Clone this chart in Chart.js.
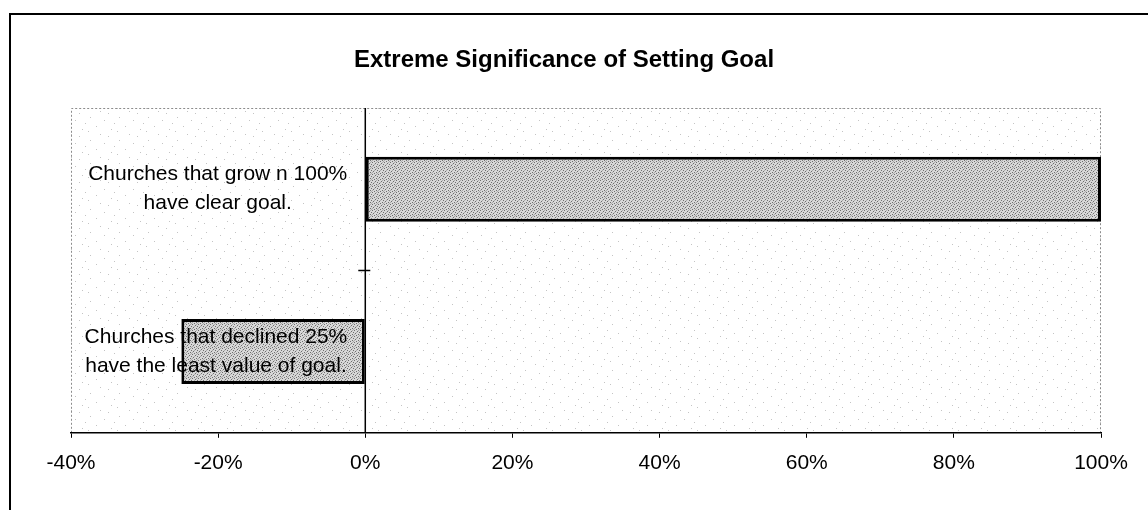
<!DOCTYPE html>
<html>
<head>
<meta charset="utf-8">
<title>Extreme Significance of Setting Goal</title>
<script src="https://cdn.jsdelivr.net/npm/chart.js@4.4.1/dist/chart.umd.min.js"></script>
<style>
  html, body { margin: 0; padding: 0; background: #ffffff; }
  #wrap { width: 1148px; height: 510px; position: relative; }
</style>
</head>
<body>
<div id="wrap"><canvas id="chart"></canvas></div>
<script>
// Chart content
const chartTitle = "Extreme Significance of Setting Goal";
const categories = [
  ["Churches that grow n 100%", "have clear goal."],
  ["Churches that declined 25%", "have the least value of goal."]
];
const goalValues = [100, -25];
const axisMin = -40;
const axisMax = 100;
const axisStep = 20;

const FONT = '"Liberation Sans", Arial, Helvetica, sans-serif';

// Dotted fill used for the bars
function makeBarPattern() {
  const c = document.createElement('canvas');
  c.width = 6; c.height = 6;
  const g = c.getContext('2d');
  g.fillStyle = '#d8d8d8';
  g.fillRect(0, 0, 6, 6);
  g.fillStyle = '#6e6e6e';
  const dots = [[0,0],[3,1],[1,3],[4,4],[2,5],[5,2]];
  dots.forEach(([x, y]) => g.fillRect(x, y, 1, 1));
  g.fillStyle = '#aaaaaa';
  [[2,2],[5,5],[0,4],[4,0]].forEach(([x, y]) => g.fillRect(x, y, 1, 1));
  return g.createPattern(c, 'repeat');
}

// Sparse speckle for the plot background
function makePlotPattern() {
  const c = document.createElement('canvas');
  c.width = 29; c.height = 23;
  const g = c.getContext('2d');
  g.fillStyle = '#ffffff';
  g.fillRect(0, 0, 29, 23);
  g.fillStyle = '#c4c4c4';
  const dots = [[3,2],[17,5],[9,11],[24,14],[13,19],[1,16],[21,21],[27,8]];
  dots.forEach(([x, y]) => g.fillRect(x, y, 1, 1));
  return g.createPattern(c, 'repeat');
}

const framePlugin = {
  id: 'frame',
  beforeDraw(chart) {
    const { ctx, chartArea: a } = chart;
    ctx.save();
    // outer frame
    ctx.strokeStyle = '#000';
    ctx.lineWidth = 2;
    ctx.strokeRect(10, 14, 1400, 800);
    // plot background
    ctx.fillStyle = makePlotPattern();
    ctx.fillRect(a.left, a.top, a.right - a.left, a.bottom - a.top);
    // dotted plot border
    ctx.strokeStyle = '#8c8c8c';
    ctx.lineWidth = 1;
    ctx.setLineDash([2, 2]);
    ctx.beginPath();
    ctx.moveTo(a.left + 0.5, a.bottom);
    ctx.lineTo(a.left + 0.5, a.top + 0.5);
    ctx.lineTo(a.right - 0.5, a.top + 0.5);
    ctx.lineTo(a.right - 0.5, a.bottom);
    ctx.stroke();
    ctx.setLineDash([]);
    // title
    ctx.fillStyle = '#000';
    ctx.font = 'bold 24px ' + FONT;
    ctx.textAlign = 'center';
    ctx.textBaseline = 'middle';
    ctx.fillText(chartTitle, 564, 60);
    ctx.restore();
  },
  afterDatasetsDraw(chart) {
    const { ctx, chartArea: a, scales } = chart;
    const xs = scales.x, ys = scales.y;
    const x0 = xs.getPixelForValue(0);
    ctx.save();
    // value axis crossing at zero
    ctx.strokeStyle = '#000';
    ctx.lineWidth = 1.5;
    ctx.beginPath();
    ctx.moveTo(x0, a.top);
    ctx.lineTo(x0, a.bottom);
    // tick mark between the two categories
    const yb = (ys.getPixelForValue(0) + ys.getPixelForValue(1)) / 2;
    ctx.moveTo(x0 - 7, yb);
    ctx.lineTo(x0 + 5, yb);
    ctx.stroke();
    // category labels next to the zero line
    ctx.fillStyle = '#000';
    ctx.font = '21px ' + FONT;
    ctx.textAlign = 'center';
    ctx.textBaseline = 'middle';
    categories.forEach((lines, i) => {
      const yc = ys.getPixelForValue(i);
      const w = Math.max(...lines.map(l => ctx.measureText(l).width));
      const cx = x0 - 18 - w / 2;
      const lh = 29;
      lines.forEach((l, k) => {
        ctx.fillText(l, cx, yc + (k - (lines.length - 1) / 2) * lh);
      });
    });
    ctx.restore();
  }
};

const ctx = document.getElementById('chart').getContext('2d');
new Chart(ctx, {
  type: 'bar',
  data: {
    labels: categories,
    datasets: [{
      data: goalValues,
      backgroundColor: makeBarPattern(),
      borderColor: '#000',
      borderWidth: 3,
      borderSkipped: false,
      categoryPercentage: 1.0,
      barPercentage: 0.4
    }]
  },
  options: {
    indexAxis: 'y',
    responsive: true,
    maintainAspectRatio: false,
    animation: false,
    layout: { padding: { left: 71, right: 47, top: 108, bottom: 21 } },
    plugins: {
      legend: { display: false },
      title: { display: false },
      tooltip: { enabled: false }
    },
    scales: {
      x: {
        type: 'linear',
        min: axisMin,
        max: axisMax,
        ticks: {
          stepSize: axisStep,
          color: '#000',
          font: { family: FONT, size: 21 },
          padding: 13,
          callback: v => v + '%'
        },
        grid: {
          drawOnChartArea: false,
          drawTicks: true,
          tickLength: 5,
          tickColor: '#000'
        },
        border: { display: true, color: '#000', width: 1.5 }
      },
      y: {
        type: 'category',
        display: false
      }
    }
  },
  plugins: [framePlugin]
});
</script>
</body>
</html>
